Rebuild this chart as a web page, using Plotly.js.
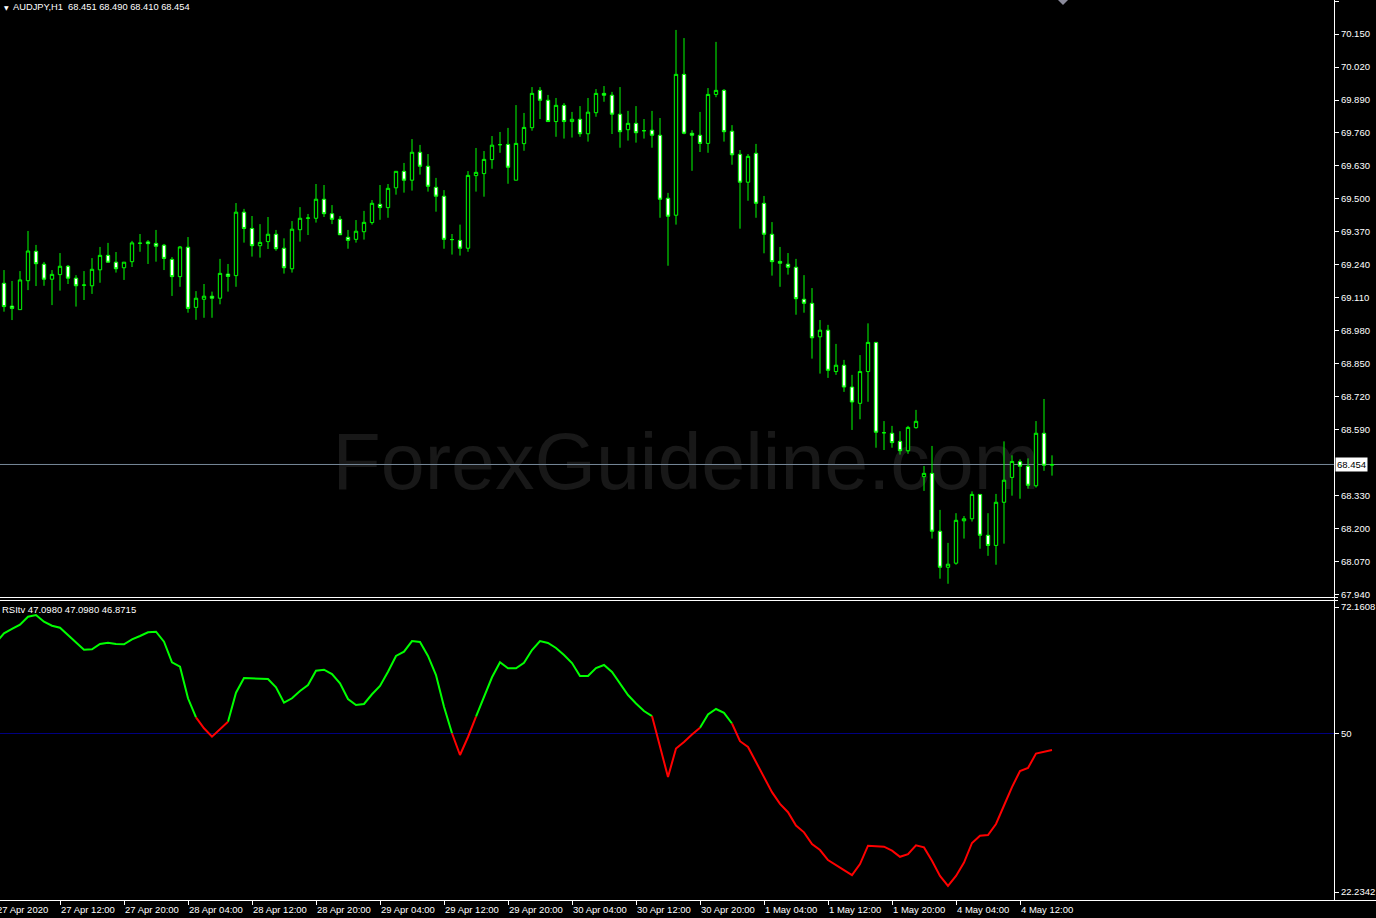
<!DOCTYPE html>
<html><head><meta charset="utf-8">
<script src="https://cdn.plot.ly/plotly-3.0.1.min.js"></script>
<style>html,body{margin:0;padding:0;background:#000;overflow:hidden}#chart{width:1376px;height:918px}</style>
</head><body><div id="chart"></div>
<script>
// ---------- DATA ----------
const symbol = "AUDJPY,H1";
const openP = [69.168,69.078,69.064,69.178,69.294,69.243,69.184,69.202,69.235,69.188,69.160,69.158,69.221,69.278,69.251,69.229,69.253,69.325,69.331,69.325,69.318,69.262,69.194,69.310,69.073,69.105,69.117,69.109,69.204,69.198,69.448,69.384,69.316,69.332,69.361,69.306,69.225,69.379,69.424,69.424,69.499,69.442,69.420,69.349,69.341,69.371,69.407,69.479,69.466,69.544,69.609,69.574,69.684,69.629,69.546,69.511,69.340,69.337,69.306,69.592,69.600,69.655,69.714,69.715,69.574,69.718,69.781,69.928,69.889,69.805,69.869,69.805,69.814,69.757,69.840,69.916,69.909,69.834,69.773,69.798,69.769,69.771,69.751,69.503,69.436,69.991,69.759,69.751,69.719,69.912,69.928,69.767,69.676,69.566,69.680,69.483,69.361,69.254,69.243,69.231,69.105,69.089,68.957,68.983,68.820,68.845,68.759,68.695,68.820,68.935,68.579,68.577,68.545,68.508,68.599,68.406,68.419,68.191,68.049,68.065,68.232,68.240,68.336,68.175,68.135,68.305,68.403,68.465,68.447,68.370,68.577,68.451];
const highP = [69.220,69.177,69.216,69.374,69.319,69.252,69.220,69.287,69.240,69.200,69.216,69.267,69.311,69.327,69.291,69.251,69.335,69.362,69.338,69.378,69.323,69.271,69.315,69.350,69.137,69.165,69.135,69.264,69.244,69.484,69.461,69.433,69.401,69.429,69.378,69.345,69.413,69.468,69.441,69.559,69.555,69.476,69.433,69.378,69.417,69.453,69.496,69.555,69.559,69.609,69.642,69.736,69.713,69.677,69.583,69.535,69.362,69.399,69.610,69.701,69.689,69.748,69.764,69.780,69.870,69.839,69.941,69.941,69.910,69.898,69.878,69.843,69.866,69.898,69.933,69.945,69.922,69.941,69.847,69.866,69.815,69.847,69.819,69.524,70.166,70.134,69.771,69.843,69.937,70.119,69.933,69.791,69.693,69.677,69.717,69.512,69.409,69.311,69.287,69.264,69.200,69.149,69.023,69.004,68.929,68.866,68.807,68.885,69.010,68.935,68.625,68.606,68.585,68.606,68.669,68.448,68.527,68.275,68.145,68.262,68.251,68.348,68.336,68.262,68.338,68.545,68.490,68.474,68.478,68.625,68.712,68.490];
const lowP = [69.056,69.023,69.064,69.141,69.157,69.158,69.082,69.139,69.165,69.076,69.102,69.126,69.170,69.251,69.210,69.181,69.232,69.292,69.244,69.253,69.220,69.118,69.154,69.052,69.024,69.032,69.032,69.085,69.135,69.154,69.328,69.273,69.269,69.303,69.296,69.206,69.210,69.332,69.358,69.407,69.429,69.401,69.359,69.304,69.328,69.340,69.399,69.418,69.426,69.517,69.525,69.533,69.596,69.529,69.450,69.304,69.281,69.277,69.292,69.529,69.509,69.619,69.682,69.560,69.574,69.690,69.769,69.815,69.805,69.745,69.738,69.742,69.745,69.726,69.824,69.883,69.756,69.702,69.730,69.722,69.738,69.702,69.426,69.237,69.399,69.755,69.611,69.685,69.682,69.901,69.726,69.635,69.383,69.493,69.426,69.286,69.198,69.154,69.202,69.044,69.052,68.871,68.812,68.795,68.807,68.740,68.590,68.632,68.701,68.520,68.511,68.520,68.493,68.496,68.595,68.350,68.162,68.004,67.984,68.059,68.162,68.229,68.122,68.094,68.059,68.142,68.331,68.319,68.359,68.363,68.429,68.410];
const closeP = [69.076,69.069,69.181,69.295,69.245,69.184,69.203,69.235,69.188,69.158,69.161,69.223,69.278,69.251,69.225,69.251,69.327,69.326,69.324,69.314,69.266,69.194,69.311,69.069,69.109,69.117,69.109,69.207,69.195,69.448,69.384,69.316,69.329,69.361,69.304,69.229,69.381,69.424,69.425,69.499,69.442,69.420,69.359,69.337,69.373,69.408,69.483,69.466,69.542,69.609,69.574,69.684,69.629,69.550,69.511,69.341,69.340,69.306,69.593,69.605,69.656,69.712,69.714,69.625,69.719,69.782,69.916,69.889,69.805,69.869,69.805,69.814,69.757,69.842,69.916,69.909,69.834,69.765,69.798,69.761,69.769,69.751,69.499,69.432,69.991,69.759,69.751,69.719,69.912,69.928,69.765,69.674,69.566,69.668,69.483,69.361,69.253,69.247,69.231,69.107,69.089,68.953,68.983,68.825,68.845,68.759,68.700,68.820,68.935,68.581,68.579,68.540,68.508,68.600,68.624,68.419,68.191,68.049,68.061,68.234,68.240,68.336,68.175,68.135,68.305,68.392,68.466,68.447,68.372,68.577,68.451,68.454];

// RSI value of the bar before the first visible candle, then one value per candle
const rsiPrev = 65.9;
const rsi = [67.55,68.31,69.06,70.46,70.76,69.59,68.88,68.53,67.26,65.91,64.68,64.75,65.68,65.91,65.68,65.63,66.50,67.08,67.73,67.83,66.08,62.47,61.70,56.17,52.84,50.91,49.44,50.74,52.07,57.15,59.72,59.67,59.55,59.55,58.09,55.40,56.17,57.45,58.50,61.00,61.18,60.42,58.79,56.04,54.99,55.17,56.87,58.32,60.83,63.58,64.33,66.20,66.03,63.58,60.25,54.70,50.04,46.23,49.39,52.94,56.34,59.85,62.47,61.42,61.42,62.40,64.63,66.20,65.85,64.98,63.75,62.35,60.07,60.07,61.47,62.00,60.77,58.85,56.74,55.27,53.94,53.05,47.64,42.38,47.36,48.51,49.83,51.00,53.35,54.29,53.63,51.75,48.65,47.64,45.01,42.38,39.73,37.67,36.21,33.87,32.69,30.64,29.59,27.82,27.00,26.05,25.18,27.12,30.35,30.28,30.17,29.47,28.40,28.87,30.40,30.05,27.70,25.05,23.30,25.05,27.40,30.82,32.10,32.22,34.15,37.39,40.61,43.43,43.96,46.48,46.76,47.098];
const rsiHeaderVals = ["47.0980","47.0980","46.8715"];
// candle-index ranges where the RSI line is drawn red
const redRanges = [[24,28],[56,59],[81,87],[91,131]];
const rsiLevel = 50;

const priceTicks = [67.940,68.070,68.200,68.330,68.590,68.720,68.850,68.980,69.110,69.240,69.370,69.500,69.630,69.760,69.890,70.020,70.150,70.280];
const rsiTicks = [22.2342, 50, 72.1608];
const rsiTickText = ["22.2342","50","72.1608"];

const timeTickIdx = [-1,7,15,23,31,39,47,55,63,71,79,87,95,103,111,119,127];
const timeTickText = ["27 Apr 2020","27 Apr 12:00","27 Apr 20:00","28 Apr 04:00","28 Apr 12:00","28 Apr 20:00","29 Apr 04:00","29 Apr 12:00","29 Apr 20:00","30 Apr 04:00","30 Apr 12:00","30 Apr 20:00","1 May 04:00","1 May 12:00","1 May 20:00","4 May 04:00","4 May 12:00"];
const watermark = "ForexGuideline.com";

// ---------- LAYOUT GEOMETRY ----------
const W = 1376, H = 918, PR = 1334;           // plot right edge in px
const BAR0 = 4, BARW = 8;                      // px of first candle, px per candle
const PX = px => px / PR;                     // px -> paper x
const PY = py => 1 - py / H;                  // px -> paper y
const FONT = "Liberation Sans, Arial, sans-serif";
const TXT = "#ffffff";

const idx = openP.map((_, i) => i);
const lastClose = closeP[closeP.length - 1];

// RSI split in green / red
const rx = [-1].concat(idx);
const rv = [rsiPrev].concat(rsi);
const segRed = k => redRanges.some(([a, b]) => a <= k && k + 1 <= b); // segment k -> k+1
const greenY = rv.map((v, j) => {
  const k = rx[j];
  const prevG = j > 0 && !segRed(k - 1);
  const nextG = j < rv.length - 1 && !segRed(k);
  return (prevG || nextG) ? v : null;
});
const redY = rv.map((v, j) => {
  const k = rx[j];
  const prevR = j > 0 && segRed(k - 1);
  const nextR = j < rv.length - 1 && segRed(k);
  return (prevR || nextR) ? v : null;
});

const traces = [
  {
    type: "candlestick", x: idx, open: openP, high: highP, low: lowP, close: closeP,
    xaxis: "x", yaxis: "y", whiskerwidth: 0, hoverinfo: "skip",
    increasing: { line: { color: "#00ff00", width: 1 }, fillcolor: "#000000" },
    decreasing: { line: { color: "#00ff00", width: 1 }, fillcolor: "#ffffff" }
  },
  { type: "scatter", mode: "lines", x: rx, y: greenY, xaxis: "x2", yaxis: "y2",
    line: { color: "#00ff00", width: 2 }, connectgaps: false, hoverinfo: "skip" },
  { type: "scatter", mode: "lines", x: rx, y: redY, xaxis: "x2", yaxis: "y2",
    line: { color: "#ff0000", width: 2 }, connectgaps: false, hoverinfo: "skip" }
];

const shapes = [
  // watermark behind candles
  { type: "rect", xref: "paper", yref: "paper", x0: PX(286), x1: PX(1086), y0: PY(514), y1: PY(394),
    line: { width: 0 }, fillcolor: "rgba(0,0,0,0)", layer: "below",
    label: { text: watermark, textposition: "middle center", font: { family: FONT, size: 79, color: "#181818" } } },
  // current price line
  { type: "line", xref: "paper", yref: "y", x0: 0, x1: 1, y0: lastClose, y1: lastClose,
    line: { color: "#778899", width: 1 }, layer: "below" },
  // RSI 50 level
  { type: "line", xref: "paper", yref: "y2", x0: 0, x1: 1, y0: rsiLevel, y1: rsiLevel,
    line: { color: "#000080", width: 1 }, layer: "below" },
  // panel borders
  { type: "line", xref: "paper", yref: "paper", x0: 0, x1: PX(1338), y0: PY(597.5), y1: PY(597.5), line: { color: "#ffffff", width: 1 } },
  { type: "line", xref: "paper", yref: "paper", x0: 0, x1: PX(1338), y0: PY(600.5), y1: PY(600.5), line: { color: "#ffffff", width: 1 } },
  { type: "line", xref: "paper", yref: "paper", x0: 0, x1: PX(W), y0: PY(900.5), y1: PY(900.5), line: { color: "#ffffff", width: 1 } },
  { type: "line", xref: "paper", yref: "paper", x0: PX(1334.5), x1: PX(1334.5), y0: PY(0), y1: PY(900.5), line: { color: "#ffffff", width: 1 } },
  // chart shift marker
  { type: "path", xref: "paper", yref: "paper",
    path: `M ${PX(1058)} ${PY(0)} L ${PX(1068)} ${PY(0)} L ${PX(1063)} ${PY(5)} Z`,
    fillcolor: "#8a8a9a", line: { width: 0 } }
];

const annotations = [
  { xref: "paper", yref: "paper", x: PX(1.5), y: PY(7.5), xanchor: "left", yanchor: "middle", showarrow: false,
    text: "▼", font: { family: "DejaVu Sans", size: 6, color: TXT } },
  { xref: "paper", yref: "paper", x: PX(11), y: PY(7.5), xanchor: "left", yanchor: "middle", showarrow: false,
    text: symbol + "&nbsp;&nbsp;" + [openP, highP, lowP, closeP].map(a => a[a.length - 1].toFixed(3)).join(" "),
    font: { family: FONT, size: 9.3, color: TXT } },
  { xref: "paper", yref: "paper", x: PX(0), y: PY(609), xanchor: "left", yanchor: "middle", showarrow: false,
    text: "RSItv " + rsiHeaderVals.join(" "), font: { family: FONT, size: 9.5, color: TXT } },
  // current price box
  { xref: "paper", yref: "y", x: PX(1335), y: lastClose, xanchor: "left", yanchor: "middle", showarrow: false,
    text: lastClose.toFixed(3), bgcolor: "#ffffff", borderpad: 1, font: { family: FONT, size: 9.5, color: "#000000" } }
];
timeTickIdx.forEach((t, k) => {
  const px = BAR0 + BARW * t + (k === 0 ? -1.5 : -1);
  annotations.push({ xref: "paper", yref: "paper", x: PX(px), y: PY(909), xanchor: "left", yanchor: "middle",
    showarrow: false, text: timeTickText[k], font: { family: FONT, size: 9.5, color: TXT } });
});

const xr = [(0 - BAR0) / BARW, (PR - BAR0) / BARW];
const layout = {
  width: W, height: H, margin: { l: 0, r: W - PR, t: 0, b: 0, pad: 0 },
  paper_bgcolor: "#000000", plot_bgcolor: "#000000", showlegend: false, boxgap: 0.4,
  font: { family: FONT, color: TXT },
  xaxis: { domain: [0, 1], range: xr, anchor: "y", showgrid: false, zeroline: false, showticklabels: false,
    ticks: "", rangeslider: { visible: false }, fixedrange: true },
  xaxis2: { domain: [0, 1], range: xr, anchor: "y2", showgrid: false, zeroline: false, showticklabels: false,
    ticks: "outside", tickvals: timeTickIdx, ticklen: 4, tickcolor: "#ffffff", tickwidth: 1, fixedrange: true },
  yaxis: { domain: [PY(597), 1], range: [70.284 - 597 * 0.00394, 70.284], side: "right", anchor: "x",
    tickvals: priceTicks, ticktext: priceTicks.map(v => v.toFixed(3)), ticks: "outside", ticklen: 4,
    tickcolor: "#ffffff", tickfont: { family: FONT, size: 9.5, color: TXT }, showgrid: false, zeroline: false, fixedrange: true },
  yaxis2: { domain: [PY(900), PY(601)], range: [72.1608 - 293 * 0.17518, 72.1608 + 6 * 0.17518], side: "right", anchor: "x2",
    tickvals: rsiTicks, ticktext: rsiTickText, ticks: "outside", ticklen: 4,
    tickcolor: "#ffffff", tickfont: { family: FONT, size: 9.5, color: TXT }, showgrid: false, zeroline: false, fixedrange: true },
  shapes: shapes, annotations: annotations
};

Plotly.newPlot("chart", traces, layout, { staticPlot: true, displayModeBar: false });
</script></body></html>
